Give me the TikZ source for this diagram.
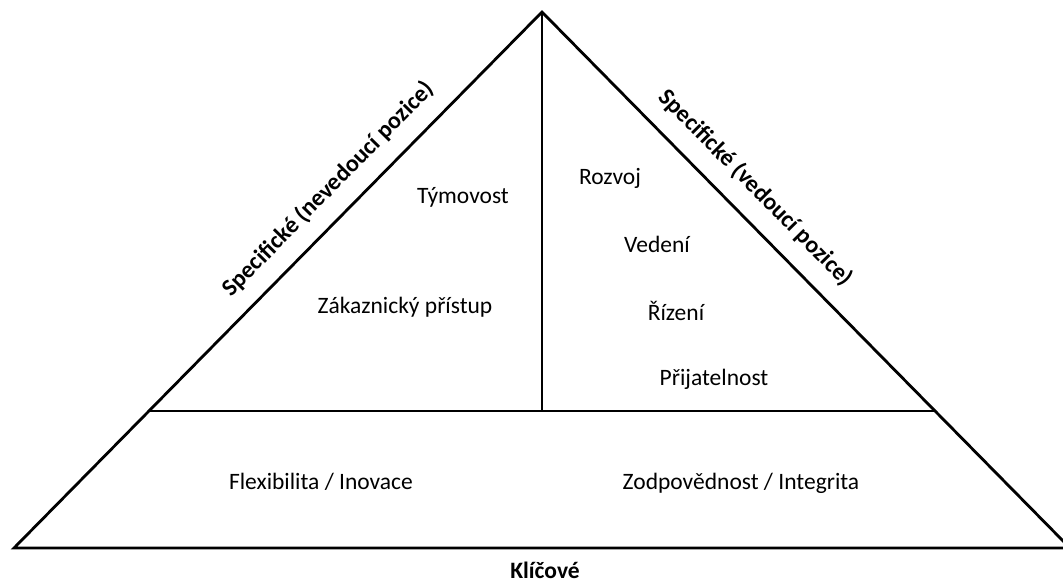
\documentclass[tikz,border=0pt]{standalone}
\usepackage{fontspec}
\setmainfont{Carlito}
\usetikzlibrary{calc}

\tikzset{
  edge/.style={draw=black, line width=2.8pt, line join=miter},
  lbl/.style={font=\fontsize{23.5}{28}\selectfont, inner sep=0pt, anchor=base},
  sidelbl/.style={font=\fontsize{24}{28}\selectfont\bfseries, inner sep=0pt, sloped}
}

\begin{document}
\begin{tikzpicture}[x=1pt, y=-1pt]
  \clip (0,0) rectangle (1063,582);
  \fill[white] (0,0) rectangle (1063,582);

  % corners of the pyramid
  \coordinate (apex) at (542,12);
  \coordinate (bl) at (14,548);
  \coordinate (br) at (1070,548);

  % level dividing the key layer from the specific layer
  \coordinate (ml) at ($(bl)!0.2556!(apex)$);
  \coordinate (mr) at ($(br)!0.2556!(apex)$);
  \coordinate (mc) at ($(ml)!0.5!(mr)$);

  \draw[edge] (apex) -- (br) -- (bl) -- cycle;
  \draw[edge] (ml) -- (mr);
  \draw[edge] (apex) -- (mc);

  % labels along the sloped sides
  \path (bl) -- (apex) node[sidelbl, pos=0.633, above=17pt] (leftside) {Specifické (nevedoucí pozice)};
  \path (apex) -- (br) node[sidelbl, pos=0.366, above=18pt] (rightside) {Specifické (vedoucí pozice)};

  % non-managerial competences
  \node[lbl] (tym) at (463,203) {Týmovost};
  \node[lbl] (zak) at (405,313) {Zákaznický přístup};

  % managerial competences
  \node[lbl] (roz) at (610,184) {Rozvoj};
  \node[lbl] (ved) at (657,252) {Vedení};
  \node[lbl] (riz) at (676,320) {Řízení};
  \node[lbl] (pri) at (714,385) {Přijatelnost};

  % key competences
  \node[lbl] (flex) at (321,489) {Flexibilita / Inovace};
  \node[lbl] (zodp) at (741,489) {Zodpovědnost / Integrita};
  \node[lbl, font=\fontsize{23.5}{28}\selectfont\bfseries] (klic) at (545,578) {Klíčové};
\end{tikzpicture}
\end{document}
